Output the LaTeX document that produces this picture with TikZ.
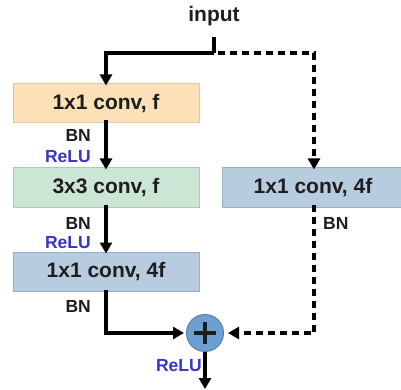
\documentclass[tikz,border=0pt]{standalone}
\usepackage{fontspec}
\setmainfont{Liberation Sans}
\usetikzlibrary{arrows.meta}
\definecolor{txt}{HTML}{1E1E1E}
\definecolor{relublue}{HTML}{3535C8}
\definecolor{orangefill}{HTML}{FCE0B7}
\definecolor{orangeline}{HTML}{E6C89E}
\definecolor{greenfill}{HTML}{CCE6D6}
\definecolor{greenline}{HTML}{AACBB8}
\definecolor{bluefill}{HTML}{B8CCDF}
\definecolor{blueline}{HTML}{98AEC4}
\definecolor{sumfill}{HTML}{6E9FD1}
\definecolor{sumline}{HTML}{557FAE}
\tikzset{
  layer/.style={draw, line width=1pt, minimum width=186pt, minimum height=39pt,
    inner sep=0pt, font=\fontsize{21}{24}\selectfont\bfseries, text=txt},
  conn/.style={line width=3.6pt, draw=black, -{Triangle[length=11pt,width=12pt]}},
  plainconn/.style={line width=3.6pt, draw=black},
  skip/.style={conn, dash pattern=on 7pt off 5pt},
  bnlab/.style={font=\fontsize{17.5}{20}\selectfont\bfseries, text=txt, inner sep=0pt},
  relulab/.style={font=\fontsize{17.5}{20}\selectfont\bfseries, text=relublue, inner sep=0pt},
}
\begin{document}
\begin{tikzpicture}[x=1pt,y=-1pt]
\useasboundingbox (0,0) rectangle (401,390);

% input and blocks
\node[font=\fontsize{21}{24}\selectfont\bfseries, text=txt] (in) at (214,16) {input};
\coordinate (stub) at (214,37);
\coordinate (split) at (214,53);
\coordinate (lcorner) at (106,53);
\coordinate (rcorner) at (314,53);

\node[layer, fill=orangefill, draw=orangeline] (c1) at (106,103.5) {1x1 conv, f};
\node[layer, fill=greenfill, draw=greenline] (c2) at (106,187.5) {3x3 conv, f};
\node[layer, fill=bluefill, draw=blueline] (c3) at (106,271.5) {1x1 conv, 4f};
\node[layer, fill=bluefill, draw=blueline, minimum width=182pt] (sc) at (313,187.5) {1x1 conv, 4f};

\node[circle, fill=sumfill, draw=sumline, line width=1pt, minimum size=37pt, inner sep=0pt] (sum) at (205,333) {};
\draw[line width=3.2pt, txt] ([xshift=-11pt]sum.center) -- ([xshift=11pt]sum.center)
  ([yshift=-11pt]sum.center) -- ([yshift=11pt]sum.center);

\coordinate (bjoin) at (106,333);
\coordinate (rjoin) at (314,333);
\coordinate (out) at (205,389);

% main path
\draw[plainconn] (stub) -- (split);
\draw[conn] (split) -- (lcorner) -- ([yshift=-2pt]c1.north);
\draw[conn] ([yshift=3pt]c1.south) -- ([yshift=-2pt]c2.north);
\draw[conn] ([yshift=3pt]c2.south) -- ([yshift=-2pt]c3.north);
\draw[conn] ([yshift=2pt]c3.south) -- (bjoin) -- ([xshift=-2pt]sum.west);
\draw[conn] (sum.south) -- (out);

% shortcut path
\draw[skip] ([xshift=4pt]split) -- (rcorner) -- ([yshift=-2pt]sc.north -| rcorner);
\draw[skip] ([yshift=3pt]sc.south -| rjoin) -- (rjoin) -- ([xshift=4pt]sum.east);

% labels
\node[bnlab, anchor=east] (bn1) at (91,135) {BN};
\node[relulab, anchor=east] (r1) at (91,157) {ReLU};
\node[bnlab, anchor=east] (bn2) at (91,223) {BN};
\node[relulab, anchor=east] (r2) at (91,243) {ReLU};
\node[bnlab, anchor=east] (bn3) at (91,306) {BN};
\node[bnlab, anchor=west] (bn4) at (323,223) {BN};
\node[relulab, anchor=east] (r3) at (202,366) {ReLU};
\end{tikzpicture}
\end{document}
